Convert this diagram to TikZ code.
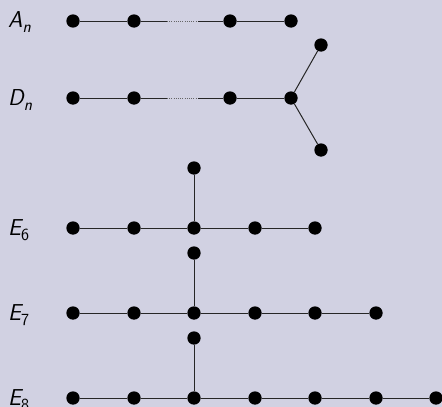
\documentclass[tikz,border=0pt]{standalone}
\usepackage{fontspec}
\usepackage{xcolor}
\definecolor{bgc}{RGB}{209,209,226}
\newcommand{\lsub}[1]{\raisebox{-0.22em}{\fontsize{17}{17}\selectfont #1}}
\begin{document}
\begin{tikzpicture}[x=1pt,y=-1pt,
  dot/.style={circle,fill=black,inner sep=0pt,minimum size=13.3pt},
  edge/.style={line width=1pt,draw=black!85},
  dotline/.style={line width=0.8pt,draw=black!60,dash pattern=on 1pt off 1.2pt},
  lab/.style={anchor=base west,inner sep=0pt,font=\fontsize{23}{27}\selectfont\sffamily\itshape}]
\useasboundingbox (0,0) rectangle (442,407);
\fill[bgc] (0,0) rectangle (442,407);
\clip (0,0) rectangle (442,407);
% labels
\node[lab] (lA) at (8,27) {A\lsub{n}};
\node[lab] (lD) at (8,105) {D\lsub{n}};
\node[lab] (l6) at (8,235) {E\lsub{\upshape 6}};
\node[lab] (l7) at (8,320) {E\lsub{\upshape 7}};
\node[lab] (l8) at (8,405) {E\lsub{\upshape 8}};
% A_n
\node[dot] (a1) at (73,21) {};
\node[dot] (a2) at (134,21) {};
\node[dot] (a3) at (230,21) {};
\node[dot] (a4) at (291,21) {};
\coordinate (ad1) at (167,21);
\coordinate (ad2) at (198,21);
\draw[edge] (a1) -- (a2) -- (ad1);
\draw[dotline] (ad1) -- (ad2);
\draw[edge] (ad2) -- (a3) -- (a4);
% D_n
\node[dot] (d1) at (73,98) {};
\node[dot] (d2) at (134,98) {};
\node[dot] (d3) at (230,98) {};
\node[dot] (d4) at (291,98) {};
\node[dot] (d5) at (321,45) {};
\node[dot] (d6) at (321,150) {};
\coordinate (dd1) at (167,98);
\coordinate (dd2) at (198,98);
\draw[edge] (d1) -- (d2) -- (dd1);
\draw[dotline] (dd1) -- (dd2);
\draw[edge] (dd2) -- (d3) -- (d4);
\draw[edge] (d4) -- (d5);
\draw[edge] (d4) -- (d6);
% E6
\foreach \i/\x in {1/73,2/134,3/194,4/255,5/315} \node[dot] (e6\i) at (\x,228) {};
\node[dot] (e6t) at (194,168) {};
\draw[edge] (e61) -- (e62) -- (e63) -- (e64) -- (e65);
\draw[edge] (e63) -- (e6t);
% E7
\foreach \i/\x in {1/73,2/134,3/194,4/255,5/315,6/376} \node[dot] (e7\i) at (\x,313) {};
\node[dot] (e7t) at (194,253) {};
\draw[edge] (e71) -- (e72) -- (e73) -- (e74) -- (e75) -- (e76);
\draw[edge] (e73) -- (e7t);
% E8
\foreach \i/\x in {1/73,2/134,3/194,4/255,5/315,6/376,7/436} \node[dot] (e8\i) at (\x,398) {};
\node[dot] (e8t) at (194,338) {};
\draw[edge] (e81) -- (e82) -- (e83) -- (e84) -- (e85) -- (e86) -- (e87);
\draw[edge] (e83) -- (e8t);
\end{tikzpicture}
\end{document}
